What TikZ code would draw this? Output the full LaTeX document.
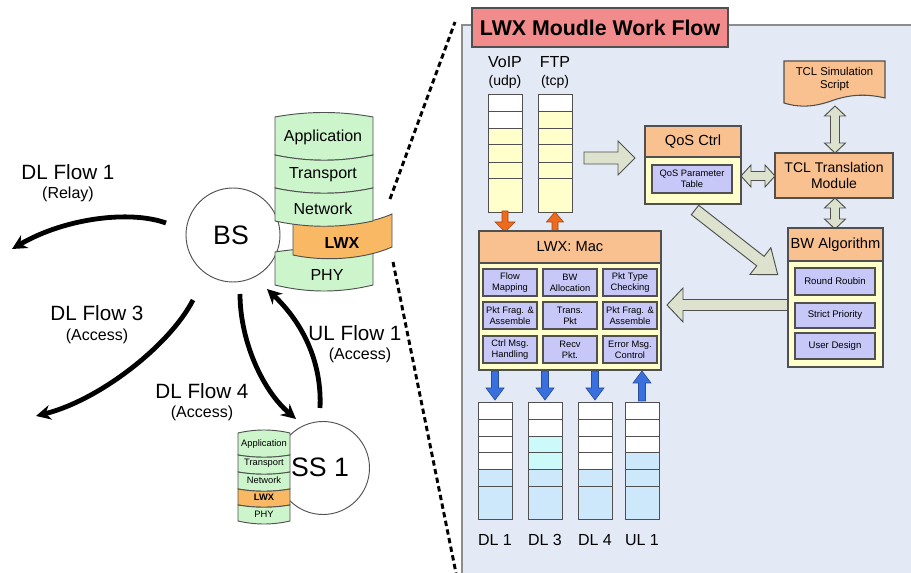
\documentclass[tikz,border=0pt]{standalone}
\usepackage{fontspec}
\setmainfont{Liberation Sans}
\usetikzlibrary{arrows.meta}

\definecolor{panelbg}{HTML}{E3EAF5}
\definecolor{panelln}{HTML}{8C8C8C}
\definecolor{layergreen}{HTML}{CCF5CC}
\definecolor{lwxorange}{HTML}{F9B964}
\definecolor{peach}{HTML}{F9C090}
\definecolor{paleyellow}{HTML}{FFFFCC}
\definecolor{lavender}{HTML}{C8C8F8}
\definecolor{titlered}{HTML}{F28B8B}
\definecolor{grayarrow}{HTML}{DCE2CD}
\definecolor{floworange}{HTML}{EE6A1C}
\definecolor{flowblue}{HTML}{3A70DE}
\definecolor{qblue}{HTML}{CCE8FA}
\definecolor{qcyan}{HTML}{CCFAFA}
\definecolor{edge}{HTML}{505050}

% one slice of a protocol stack: x1,x2,ytop,ybot,top bow,bottom bow,fill
\newcommand{\stacklayer}[7]{%
  \filldraw[fill=#7,draw=edge,line width=0.7pt]
    (#1,#3) .. controls ({#1+(#2-#1)/3},{#3+(#5)}) and ({#2-(#2-#1)/3},{#3+(#5)}) .. (#2,#3)
    -- (#2,#4) .. controls ({#2-(#2-#1)/3},{#4+(#6)}) and ({#1+(#2-#1)/3},{#4+(#6)}) .. (#1,#4) -- cycle;}

% block arrow: style, x, y, angle, length, shaft half width, head half width, head length
\newcommand{\barrow}[8]{%
  \begin{scope}[shift={(#2,#3)},rotate=#4]
    \filldraw[#1] (0,-#6) -- ({#5-#8},-#6) -- ({#5-#8},-#7) -- (#5,0)
      -- ({#5-#8},#7) -- ({#5-#8},#6) -- (0,#6) -- cycle;
  \end{scope}}

% double-headed block arrow, same arguments
\newcommand{\dblarrow}[8]{%
  \begin{scope}[shift={(#2,#3)},rotate=#4]
    \filldraw[#1] (0,0) -- (#8,-#7) -- (#8,-#6) -- ({#5-#8},-#6) -- ({#5-#8},-#7) -- (#5,0)
      -- ({#5-#8},#7) -- ({#5-#8},#6) -- (#8,#6) -- (#8,#7) -- cycle;
  \end{scope}}

\begin{document}
\begin{tikzpicture}[x=0.75pt,y=-0.75pt,
  every node/.style={inner sep=0pt},
  flow/.style={line width=3.6pt,-{Stealth[length=11pt,width=11pt]}},
  zoomline/.style={line width=2.2pt,dash pattern=on 4pt off 2.6pt},
  box/.style={draw=edge,line width=0.8pt},
  cell/.style={draw=edge,line width=0.7pt},
  grayarr/.style={fill=grayarrow,draw=edge,line width=0.7pt},
  orangearr/.style={fill=floworange,draw=floworange!70!black,line width=0.5pt},
  bluearr/.style={fill=flowblue,draw=flowblue!70!black,line width=0.5pt},
  bigtxt/.style={font=\fontsize{20}{24}\selectfont},
  flowlbl/.style={font=\fontsize{15.5}{18}\selectfont},
  subtxt/.style={font=\fontsize{12}{14}\selectfont},
  layertxt/.style={font=\fontsize{12}{14}\selectfont},
  smalllayer/.style={font=\fontsize{7}{8}\selectfont},
  headtxt/.style={font=\fontsize{11}{13}\selectfont,align=center},
  tinytxt/.style={font=\fontsize{7}{8.3}\selectfont,align=center}]

\useasboundingbox (0,0) rectangle (911,573);
\clip (0,0) rectangle (911,573);
\fill[white] (0,0) rectangle (911,573);

% ---------------- network side ----------------
\node[circle,draw=edge,line width=0.7pt,fill=white,minimum size=94pt*0.75] (bs) at (233,235) {};
\node[bigtxt] (bslbl) at (231,235) {BS};

% base station protocol stack
\stacklayer{275}{373}{252}{285}{-5}{8}{layergreen}
\filldraw[fill=lwxorange,draw=edge,line width=0.7pt]
  (293,222) .. controls (325,228) and (365,226) .. (392,214) -- (392,247)
  .. controls (365,259) and (325,262) .. (293,255) -- cycle;
\stacklayer{275}{373}{117}{155}{-6}{7}{layergreen}
\stacklayer{275}{373}{155}{188}{7}{7}{layergreen}
\stacklayer{275}{373}{188}{221}{7}{7}{layergreen}
\node[layertxt] (bsapp) at (323,137) {Application};
\node[layertxt] (bstra) at (323,175) {Transport};
\node[layertxt] (bsnet) at (323,209) {Network};
\node[layertxt,font=\fontsize{12}{14}\selectfont\bfseries] (bslwx) at (342,243) {LWX};
\node[layertxt] (bsphy) at (327,275) {PHY};

% subscriber station
\node[circle,draw=edge,line width=0.7pt,fill=white,minimum size=93pt*0.75] (ss) at (323,468) {};
\stacklayer{238}{290}{433}{455}{-4}{3}{layergreen}
\stacklayer{238}{290}{455}{472}{3}{3}{layergreen}
\stacklayer{238}{290}{472}{489}{3}{3}{layergreen}
\stacklayer{238}{290}{489}{505}{3}{3}{lwxorange}
\stacklayer{238}{290}{505}{521}{3}{4}{layergreen}
\node[smalllayer] (ssapp) at (264,444.5) {Application};
\node[smalllayer] (sstra) at (264,463.5) {Transport};
\node[smalllayer] (ssnet) at (264,480.5) {Network};
\node[smalllayer,font=\fontsize{7}{8}\selectfont\bfseries] (sslwx) at (264,497.5) {LWX};
\node[smalllayer] (ssphy) at (264,514) {PHY};
\node[bigtxt] (sslbl) at (320,467) {SS 1};

% flows
\coordinate (f1s) at (166,223); \coordinate (f1e) at (12,249);
\coordinate (f3s) at (193,300); \coordinate (f3e) at (36,416);
\coordinate (f4s) at (240,294); \coordinate (f4e) at (296,419);
\coordinate (u1s) at (320,408); \coordinate (u1e) at (267,289);
\draw[flow] (f1s) .. controls (130,210) and (65,218) .. (f1e);
\draw[flow] (f3s) .. controls (170,345) and (100,400) .. (f3e);
\draw[flow] (f4s) .. controls (240,340) and (262,390) .. (f4e);
\draw[flow] (u1s) .. controls (322,365) and (305,325) .. (u1e);

\node[flowlbl] (dl1) at (68,172) {DL Flow 1};
\node[subtxt] (dl1s) at (68,194) {(Relay)};
\node[flowlbl] (dl3) at (97,313) {DL Flow 3};
\node[subtxt] (dl3s) at (97,336) {(Access)};
\node[flowlbl] (dl4) at (202,391) {DL Flow 4};
\node[subtxt] (dl4s) at (202,413) {(Access)};

% ---------------- module panel ----------------
\filldraw[fill=panelbg,draw=panelln,line width=0.8pt] (462,25) rectangle (930,600);

\node[flowlbl] (ul1) at (355,333) {UL Flow 1};
\node[subtxt] (ul1s) at (360,355) {(Access)};

% zoom lines from the LWX layer to the panel
\coordinate (z1) at (390,199); \coordinate (z2) at (455,22);
\coordinate (z3) at (393,262); \coordinate (z4) at (456,573);
\draw[zoomline] (z1) -- (z2);
\draw[zoomline] (z3) -- (z4);

\node[draw=edge,line width=0.8pt,fill=titlered,minimum width=256pt*0.75,minimum height=39pt*0.75,
      font=\fontsize{16}{19}\selectfont\bfseries] (title) at (600,27.5) {LWX Moudle Work Flow};

% application queues
\node[subtxt] (voip) at (505,62) {VoIP};
\node[font=\fontsize{10.5}{12}\selectfont] (udp) at (505,82) {(udp)};
\node[subtxt] (ftp) at (555,62) {FTP};
\node[font=\fontsize{10.5}{12}\selectfont] (tcp) at (555,82) {(tcp)};
\foreach \ya/\yb/\c in {94/111/white,111/128/white,128/144/paleyellow,144/162/paleyellow,162/178/paleyellow,178/212/paleyellow}
  \filldraw[cell,fill=\c] (488,\ya) rectangle (522,\yb);
\foreach \ya/\yb/\c in {94/111/white,111/128/paleyellow,128/144/paleyellow,144/162/paleyellow,162/178/paleyellow,178/212/paleyellow}
  \filldraw[cell,fill=\c] (538,\ya) rectangle (572,\yb);

% link queues
\foreach \x/\ca/\cb/\cc/\cd in {478/white/white/white/white,528/white/white/qcyan/qcyan,578/white/white/white/white,625/white/white/white/qblue}{
  \filldraw[cell,fill=\ca] (\x,402) rectangle (\x+34,419);
  \filldraw[cell,fill=\cb] (\x,419) rectangle (\x+34,436);
  \filldraw[cell,fill=\cc] (\x,436) rectangle (\x+34,452);
  \filldraw[cell,fill=\cd] (\x,452) rectangle (\x+34,469);
  \filldraw[cell,fill=qblue] (\x,469) rectangle (\x+34,486);
  \filldraw[cell,fill=qblue] (\x,486) rectangle (\x+34,519);
}
\node[subtxt] (qdl1) at (495,540) {DL 1};
\node[subtxt] (qdl3) at (545,540) {DL 3};
\node[subtxt] (qdl4) at (595,540) {DL 4};
\node[subtxt] (qul1) at (642,540) {UL 1};

% gray flow arrows
\barrow{grayarr}{584}{158}{0}{51}{6}{17}{17}
\dblarrow{grayarr}{741}{176}{0}{34}{4.5}{11}{10}
\dblarrow{grayarr}{835}{106}{-90}{47}{4.5}{10.5}{10}
\dblarrow{grayarr}{835}{198}{-90}{31}{4.5}{10.5}{10}
\barrow{grayarr}{695}{210}{-38}{105}{6}{17}{22}
\barrow{grayarr}{788}{305}{180}{121}{5.5}{17}{16}

% orange and blue arrows
\barrow{orangearr}{505}{211}{-90}{21}{3}{10}{10}
\barrow{orangearr}{555}{233}{90}{21}{3}{8.5}{10}
\barrow{bluearr}{495}{371}{-90}{29}{3.5}{9}{12}
\barrow{bluearr}{545}{371}{-90}{29}{3.5}{9}{12}
\barrow{bluearr}{595}{371}{-90}{29}{3.5}{9}{12}
\barrow{bluearr}{642}{401}{90}{30}{3.5}{9}{12}

% QoS control
\filldraw[box,fill=paleyellow] (645,126) rectangle (741,204);
\filldraw[box,fill=peach] (645,126) rectangle (741,157);
\node[headtxt] (qos) at (693,141.5) {QoS Ctrl};
\filldraw[box,fill=lavender] (652,165) rectangle (732,193);
\node[tinytxt] (qospar) at (692,179) {QoS Parameter\\Table};

% TCL script and translation module
\filldraw[box,fill=peach] (784,61) -- (885,61) -- (885,98)
  .. controls (868,94) and (852,94) .. (834,100)
  .. controls (815,107) and (800,108) .. (784,103) -- cycle;
\node[font=\fontsize{8.5}{9.8}\selectfont,align=center] (tclsim) at (834.5,79) {TCL Simulation\\Script};
\filldraw[box,fill=peach] (775,153) rectangle (893,198);
\node[font=\fontsize{10.5}{12}\selectfont,align=center] (tcltr) at (834,175.5) {TCL Translation\\Module};

% bandwidth algorithm
\filldraw[box,fill=paleyellow] (788,228) rectangle (883,367);
\filldraw[box,fill=peach] (788,228) rectangle (883,261);
\node[headtxt] (bwalg) at (835.5,244.5) {BW Algorithm};
\foreach \ya/\yb/\t [count=\i] in {268/295/Round Roubin,303/328/Strict Priority,333/359/User Design}{
  \filldraw[box,fill=lavender] (795,\ya) rectangle (875,\yb);
  \node[font=\fontsize{7.2}{8.5}\selectfont] (bw\i) at (835,{(\ya+\yb)/2}) {\t};
}

% LWX MAC
\filldraw[box,fill=paleyellow] (479,231) rectangle (661,370);
\filldraw[box,fill=peach] (479,231) rectangle (661,263);
\node[headtxt] (mac) at (570,247) {LWX: Mac};
\foreach \xa/\ya/\t [count=\i] in {
  483/269/{Flow\\Mapping}, 543/269/{BW\\Allocation}, 603/269/{Pkt Type\\Checking},
  483/302/{Pkt Frag. \&\\Assemble}, 543/302/{Trans.\\Pkt}, 603/302/{Pkt Frag. \&\\Assemble},
  483/336/{Ctrl Msg.\\Handling}, 543/336/{Recv\\Pkt.}, 603/336/{Error Msg.\\Control}}{
  \filldraw[box,fill=lavender] (\xa,\ya) rectangle (\xa+54,\ya+27);
  \node[tinytxt] (mac\i) at (\xa+27,\ya+13.5) {\t};
}

\end{tikzpicture}
\end{document}
